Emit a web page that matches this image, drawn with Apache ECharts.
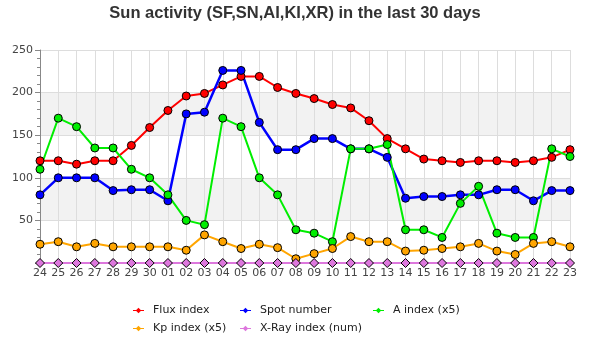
<!DOCTYPE html>
<html>
<head>
<meta charset="utf-8">
<script src="https://cdn.jsdelivr.net/npm/echarts@6/dist/echarts.min.js"></script>
<style>html,body{margin:0;padding:0;background:#fff}#c{width:590px;height:350px}</style>
</head>
<body>
<div id="c"></div>
<script>
var days = ['24','25','26','27','28','29','30','01','02','03','04','05','06','07','08','09','10','11','12','13','14','15','16','17','18','19','20','21','22','23'];
var fluxIndex = [120,120,116,120,120,138,159,179,196,199,209,219,219,206,199,193,186,182,167,146,134,122,120,118,120,120,118,120,124,133];
var spotNumber = [80,100,100,100,85,86,86,73,175,177,226,226,165,133,133,146,146,134,134,124,76,78,78,80,80,86,86,73,85,85];
var aIndex = [110,170,160,135,135,110,100,80,50,45,170,160,100,80,39,35,25,134,134,139,39,39,30,70,90,35,30,30,134,125];
var kpIndex = [22,25,19,23,19,19,19,19,15,33,25,17,22,18,5,11,17,31,25,25,14,15,17,19,23,14,10,23,25,19];
var xrayIndex = [0,0,0,0,0,0,0,0,0,0,0,0,0,0,0,0,0,0,0,0,0,0,0,0,0,0,0,0,0,0];
var yTicks = [0,50,100,150,200,250];

var names = ['Flux index','Spot number','A index (x5)','Kp index (x5)','X-Ray index (num)'];
var colors = ['#ff0000','#0000ff','#00ee00','#ffa500','#dd77dd'];
var values = [fluxIndex, spotNumber, aIndex, kpIndex, xrayIndex];
var iconPath = 'path://M0,4L10,4L10,5L0,5Z M5,2L7.5,4.5L5,7L2.5,4.5Z';

var legendPos = [[128,300],[235,300],[368,300],[128,318],[235,318]];
var legends = names.map(function(n,i){
  return {
    data:[{name:n, icon:iconPath, itemStyle:{color:colors[i], borderWidth:0}}],
    left: legendPos[i][0], top: legendPos[i][1],
    itemWidth: 11, itemHeight: 6,
    textStyle:{fontFamily:'DejaVu Sans', fontSize:11, color:'#222', padding:[0,0,0,4]},
    selectedMode:false
  };
});

var series = names.map(function(n,i){
  return {
    name:n, type:'line', data: values[i],
    symbol: i===4 ? 'diamond' : 'circle',
    symbolSize: i===4 ? 9 : 8,
    showAllSymbol:true,
    lineStyle:{color:colors[i], width: i===1 ? 2.5 : 2},
    itemStyle:{color:colors[i], borderColor:'#000', borderWidth:1},
    animation:false
  };
});

var chart = echarts.init(document.getElementById('c'));
chart.setOption({
  backgroundColor:'#fff',
  animation:false,
  color: colors,
  title:{
    text:'Sun activity (SF,SN,AI,KI,XR) in the last 30 days',
    left:'center', top:0,
    textStyle:{fontFamily:'Liberation Sans', fontWeight:'bold', fontSize:16.5, color:'#333'}
  },
  legend: legends,
  grid:{left:40, right:20, top:50, bottom:87, containLabel:false},
  xAxis:{
    type:'category', data: days, boundaryGap:false,
    axisLine:{show:true, lineStyle:{color:'#888'}},
    axisTick:{show:false},
    axisLabel:{fontFamily:'DejaVu Sans', fontSize:11, color:'#444', margin:5, interval:0},
    splitLine:{show:true, lineStyle:{color:'#dddddd'}}
  },
  yAxis:{
    type:'value', min: yTicks[0], max: yTicks[yTicks.length-1], interval:50,
    axisLine:{show:true, lineStyle:{color:'#888'}},
    axisTick:{show:true, length:5, lineStyle:{color:'#888'}},
    minorTick:{show:true, splitNumber:5, length:3, lineStyle:{color:'#888'}},
    axisLabel:{fontFamily:'DejaVu Sans', fontSize:11, color:'#444', margin:7,
      formatter:function(v){return v===0?'':String(v);}},
    splitLine:{show:true, lineStyle:{color:'#dddddd'}},
    splitArea:{show:true, areaStyle:{color:['#ffffff','#f2f2f2']}}
  },
  series: series
});
</script>
</body>
</html>
